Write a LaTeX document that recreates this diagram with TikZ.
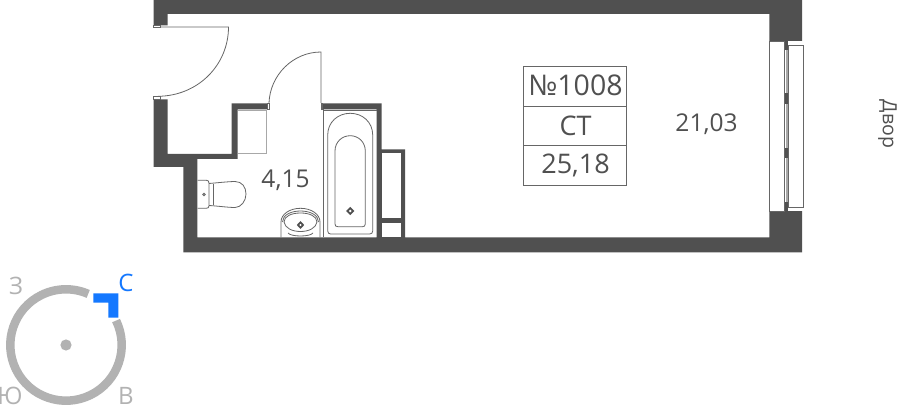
\documentclass[tikz,border=0pt]{standalone}
\usepackage{fontspec}
\setmainfont{Open Sans}
\definecolor{wallc}{HTML}{505050}
\definecolor{fix}{HTML}{666666}
\definecolor{lite}{HTML}{A8A8A8}
\definecolor{ringc}{HTML}{B2B2B2}
\definecolor{bluec}{HTML}{1478FF}
\definecolor{textc}{HTML}{505050}
\tikzset{
  wall/.style={fill=wallc,draw=none},
  fixture/.style={draw=fix,line width=0.8pt,fill=white},
  thinline/.style={draw=fix,line width=0.8pt},
  labeltext/.style={text=textc,font=\fontsize{24.5}{24.5}\selectfont,inner sep=0pt,anchor=base},
  celltext/.style={text=textc,font=\fontsize{27}{27}\selectfont,inner sep=0pt,anchor=base},
  compasstext/.style={text=ringc,font=\fontsize{24}{24}\selectfont,inner sep=0pt,anchor=base},
  tablecell/.style={draw=fix,line width=1pt}
}
\begin{document}
\begin{tikzpicture}[x=1pt,y=-1pt]
\useasboundingbox (0,0) rectangle (900,406);
\fill[white] (0,0) rectangle (900,406);
% main walls
\fill[wall] (153.5,0) -- (802,0) -- (802,252.3) -- (183.3,252.3) -- (183.3,167) -- (153.5,167) -- (153.5,99.5)
 -- (167.5,99.5) -- (167.5,154) -- (231.7,154) -- (231.7,103.3) -- (267.5,103.3) -- (267.5,109.5) -- (237.5,109.5) -- (237.5,159)
 -- (197.3,159) -- (197.3,237.3) -- (376.7,237.3) -- (376.7,109.5) -- (321.7,109.5) -- (321.7,103.3) -- (381.7,103.3)
 -- (381.7,149.3) -- (405,149.3) -- (405,237.3) -- (769.3,237.3) -- (769.3,14) -- (167.5,14) -- (167.5,25.5) -- (153.5,25.5) -- cycle;
% shaft interior
\fill[white] (381.7,153.5) rectangle (400.7,218.3);
\fill[white] (381.7,222.7) rectangle (400.7,237.3);
% window
\fill[white] (769.3,41) rectangle (802.5,211);
\fill[lite] (785.8,50) rectangle (788,202);
\fill[wallc] (784.5,41) rectangle (787.7,50);
\fill[wallc] (784.5,93) rectangle (787.7,104.5);
\fill[wallc] (784.5,148) rectangle (787.7,158.5);
\fill[wallc] (784.5,202) rectangle (787.7,211);
\draw[fixture] (769.5,41) rectangle (784.3,211);
\draw[fixture] (788,45) rectangle (803.3,207.3);
% door 1
\draw[thinline] (153.5,25.5) rectangle (160,27.5);
\draw[thinline] (153.5,96.7) rectangle (160,99.5);
\draw[thinline] (160,27) -- (228.5,27) .. controls (228.5,65) and (198,96) .. (158,96.3);
% door 2
\draw[thinline] (321,103) -- (321,52) .. controls (293,52) and (270,75) .. (269,103);
\draw[thinline,fill=white] (267.5,103.3) rectangle (269.5,109.5);
\draw[thinline,fill=white] (321,103.3) rectangle (322.5,109.5);
% closet
\draw[lite,line width=1.4pt] (238,110.8) -- (266.2,110.8) -- (266.2,153.6) -- (238,153.6);
% bath
\draw[thinline] (323.3,109.5) -- (323.3,237.3);
\draw[thinline] (323.3,110) -- (376.7,110);
\draw[thinline] (327.7,135) .. controls (327.7,122) and (338,113.3) .. (350.2,113.3) .. controls (362.4,113.3) and (372.7,122) .. (372.7,135) -- (372.7,231) .. controls (372.7,233) and (371.5,234) .. (369.7,234) -- (330.7,234) .. controls (329,234) and (327.7,233) .. (327.7,231) -- cycle;
\draw[thinline] (335,151) .. controls (335,142) and (342,135.7) .. (350.2,135.7) .. controls (358.4,135.7) and (365.3,142) .. (365.3,151) -- (365.3,224) .. controls (365.3,226) and (364,226.7) .. (362.5,226.7) -- (338,226.7) .. controls (336,226.7) and (335,226) .. (335,224) -- cycle;
\fill[wallc] (346,211) -- (350.2,206.8) -- (354.4,211) -- (350.2,215.2) -- cycle;
\fill[white] (350.2,211) circle (1.3);
% toilet
\draw[thinline] (197.5,180.2) -- (206,180.2) .. controls (208,180.2) and (209,181) .. (209,183) -- (209,206) .. controls (209,207.5) and (208,208.3) .. (206,208.3) -- (197.5,208.3);
\draw[thinline] (209,183.5) .. controls (220,182.5) and (230,181.5) .. (235,181.5) .. controls (242,181.5) and (246,187) .. (246,194) .. controls (246,201) and (241,207.5) .. (235,207.5) .. controls (228,207.5) and (218,206) .. (209,205.5);
\draw[thinline] (213,184.5) -- (213,205.5);
\draw[thinline] (204,194.5) circle (1.2);
% sink
\draw[thinline] (281,237.3) -- (281,222) .. controls (281,214) and (290,208.3) .. (300.5,208.3) .. controls (311,208.3) and (320,214) .. (320,222) -- (320,237.3);
\draw[thinline] (282.5,222) .. controls (282.5,215) and (291,211) .. (300.5,211) .. controls (310,211) and (318.5,215) .. (318.5,222);
\draw[thinline] (284,222) .. controls (284,216) and (292,213) .. (300.5,213) .. controls (309,213) and (317,216) .. (317,222) .. controls (316,228) and (309,231.5) .. (300.5,231.5) .. controls (292,231.5) and (285,228) .. (284,222) -- cycle;
\draw[thinline] (288,233) .. controls (291,237) and (310,237) .. (313,233);
\fill[wallc] (296.8,225) -- (300.5,221) -- (304.2,225) -- (300.5,229) -- cycle;
\fill[white] (300.5,225) circle (1.2);
% table
\draw[tablecell] (523.7,66.7) rectangle (626.3,185.3);
\draw[tablecell] (523.7,106.7) -- (626.3,106.7);
\draw[tablecell] (523.7,145.7) -- (626.3,145.7);
\node[celltext,font=\fontsize{28.5}{28.5}\selectfont] (num) at (575.5,96) {№1008};
\node[celltext] (kind) at (575.5,136) {СТ};
\node[celltext] (total) at (575.5,173.3) {25,18};
\node[labeltext] (living) at (706.5,131.7) {21,03};
\node[labeltext] (bath) at (285.5,187.3) {4,15};
\node[text=textc,font=\fontsize{19.5}{19.5}\selectfont,inner sep=0pt,rotate=-90] (yard) at (887.5,124) {Двор};
% compass
\draw[ringc,line width=8.5pt] (66,345) ++(-26:55.7) arc[start angle=-26,end angle=293.5,radius=55.7];
\fill[ringc] (66,345) circle (5.6);
\fill[bluec] (93.3,293.3) -- (118.3,293.3) -- (118.3,317.7) -- (108.3,317.7) -- (108.3,302.7) -- (93.3,302.7) -- cycle;
\node[compasstext] (w) at (16,294.3) {З};
\node[compasstext,text=bluec] (n) at (126,291) {С};
\node[compasstext] (s) at (10,404.5) {Ю};
\node[compasstext] (e) at (126,404.5) {В};
\end{tikzpicture}
\end{document}
